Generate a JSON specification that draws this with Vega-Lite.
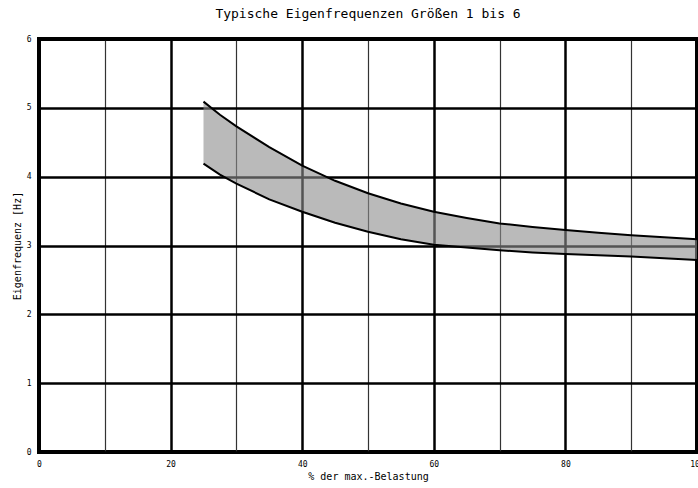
{
  "$schema": "https://vega.github.io/schema/vega-lite/v6.json",
  "autosize": {"type": "none"},
  "width": 658,
  "height": 413,
  "padding": {"left": 39, "top": 39, "right": 1, "bottom": 36},
  "background": "white",
  "title": {
    "text": "Typische Eigenfrequenzen Größen 1 bis 6",
    "font": "DejaVu Sans Mono",
    "fontSize": 13,
    "fontWeight": "normal",
    "color": "black",
    "anchor": "middle",
    "offset": 14
  },
  "config": {
    "view": {"stroke": "black", "strokeWidth": 4},
    "axis": {
      "domain": false,
      "labelFont": "DejaVu Sans Mono",
      "labelFontSize": 8,
      "labelColor": "black",
      "titleFont": "DejaVu Sans Mono",
      "titleFontSize": 10,
      "titleFontWeight": "normal",
      "titleColor": "black"
    }
  },
  "data": {
    "values": [
      {"x": 25, "lo": 4.19, "hi": 5.09},
      {"x": 27.5, "lo": 4.03, "hi": 4.9},
      {"x": 30, "lo": 3.9, "hi": 4.73},
      {"x": 35, "lo": 3.67, "hi": 4.43},
      {"x": 40, "lo": 3.49, "hi": 4.16},
      {"x": 45, "lo": 3.33, "hi": 3.94},
      {"x": 50, "lo": 3.2, "hi": 3.76},
      {"x": 55, "lo": 3.09, "hi": 3.61},
      {"x": 60, "lo": 3.01, "hi": 3.49},
      {"x": 65, "lo": 2.97, "hi": 3.4},
      {"x": 70, "lo": 2.93, "hi": 3.32},
      {"x": 75, "lo": 2.9, "hi": 3.27},
      {"x": 80, "lo": 2.877, "hi": 3.225},
      {"x": 85, "lo": 2.86, "hi": 3.185},
      {"x": 90, "lo": 2.84, "hi": 3.15},
      {"x": 95, "lo": 2.815, "hi": 3.12},
      {"x": 100, "lo": 2.79, "hi": 3.09}
    ]
  },
  "encoding": {
    "x": {
      "field": "x",
      "type": "quantitative",
      "scale": {"domain": [0, 100], "nice": false, "zero": false},
      "axis": {
        "title": "% der max.-Belastung",
        "values": [0, 10, 20, 30, 40, 50, 60, 70, 80, 90, 100],
        "labelExpr": "datum.value % 20 === 0 ? datum.label : ''",
        "labelFlush": false,
        "labelBound": false,
        "labelOverlap": false,
        "ticks": false,
        "labelPadding": 8,
        "titlePadding": 3,
        "grid": true,
        "gridColor": {"condition": {"test": "datum.value % 20 === 0", "value": "black"}, "value": "#333333"},
        "gridWidth": {"condition": {"test": "datum.value % 20 === 0", "value": 2.5}, "value": 1.2}
      }
    }
  },
  "layer": [
    {
      "mark": {"type": "area", "color": "#8c8c8c", "opacity": 0.6},
      "encoding": {
        "y": {
          "field": "hi",
          "type": "quantitative",
          "scale": {"domain": [0, 6], "nice": false},
          "axis": {
            "title": "Eigenfrequenz [Hz]",
            "values": [0, 0.5, 1, 1.5, 2, 2.5, 3, 3.5, 4, 4.5, 5, 5.5, 6],
            "labelExpr": "datum.value % 1 === 0 ? format(datum.value, 'd') : ''",
            "labelFlush": false,
            "labelBound": false,
            "labelOverlap": false,
            "labelPadding": 12,
            "titlePadding": 4,
            "tickSize": -4,
            "tickColor": "black",
            "tickWidth": 1,
            "tickOpacity": {"condition": {"test": "datum.value % 1 === 0", "value": 0}, "value": 1},
            "grid": true,
            "gridColor": "black",
            "gridWidth": 2.5,
            "gridOpacity": {"condition": {"test": "datum.value % 1 === 0", "value": 1}, "value": 0}
          }
        },
        "y2": {"field": "lo"}
      }
    },
    {
      "mark": {"type": "line", "color": "black", "strokeWidth": 2},
      "encoding": {"y": {"field": "hi", "type": "quantitative"}}
    },
    {
      "mark": {"type": "line", "color": "black", "strokeWidth": 2},
      "encoding": {"y": {"field": "lo", "type": "quantitative"}}
    }
  ]
}
